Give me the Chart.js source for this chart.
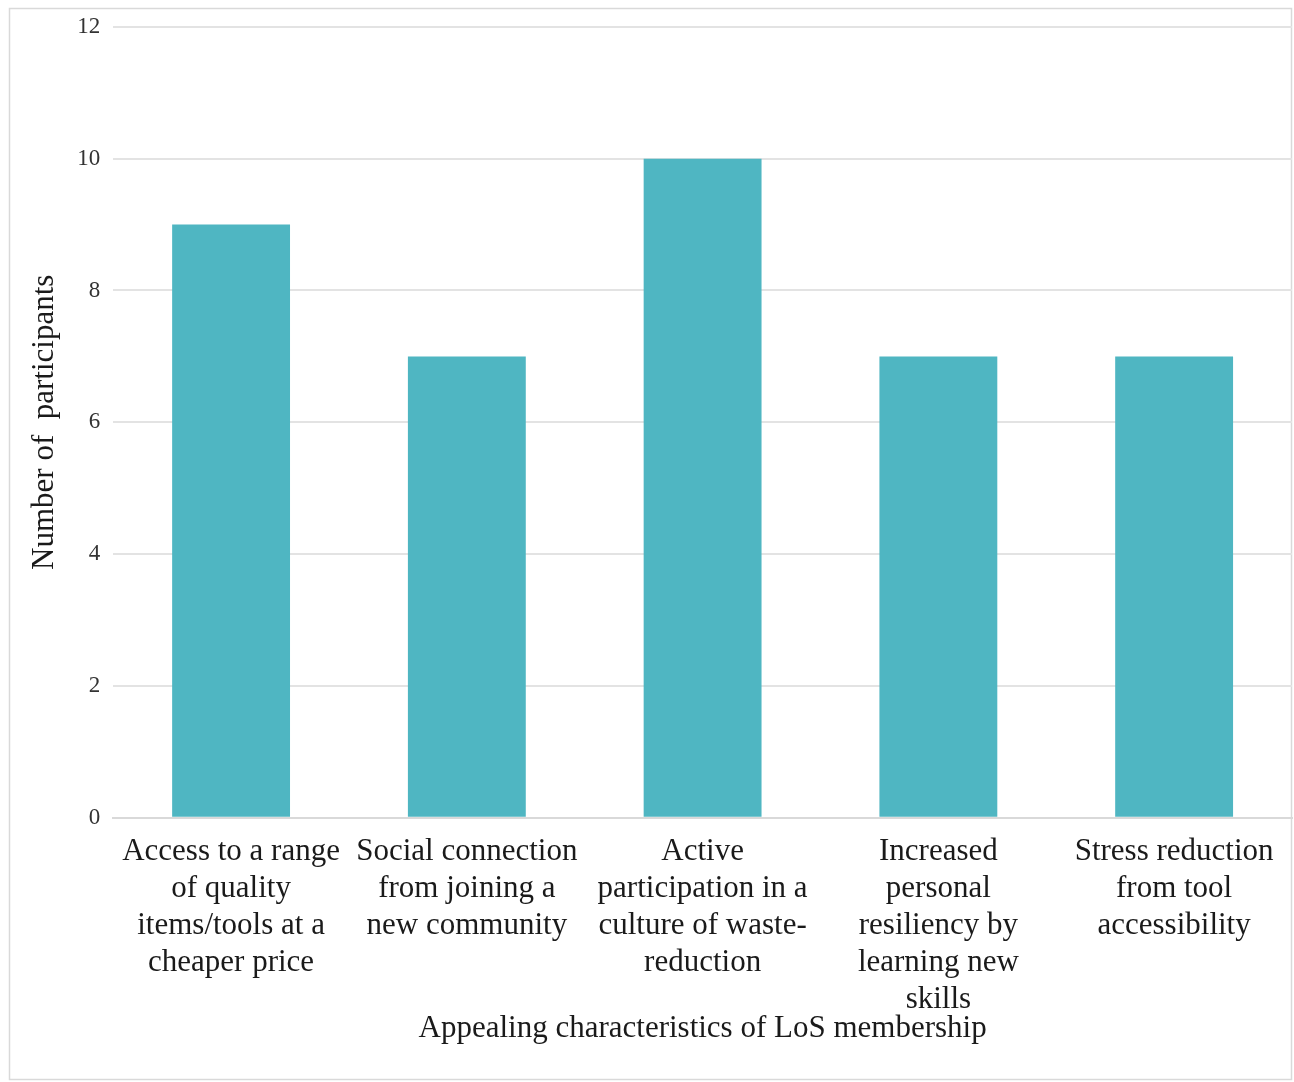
<!DOCTYPE html>
<html>
<head>
<meta charset="utf-8">
<script src="https://cdn.jsdelivr.net/npm/chart.js@4"></script>
<style>
  html, body { margin: 0; padding: 0; background: #ffffff; }
  #wrap { position: absolute; left: 0; top: 0; width: 1294px; height: 1082px; }
</style>
</head>
<body>
<div id="wrap"><canvas id="c" width="1294" height="1082"></canvas></div>
<script>
const categories = [
  ["Access to a range", "of quality", "items/tools at a", "cheaper price"],
  ["Social connection", "from joining a", "new community"],
  ["Active", "participation in a", "culture of waste-", "reduction"],
  ["Increased", "personal", "resiliency by", "learning new", "skills"],
  ["Stress reduction", "from tool", "accessibility"]
];
const participants = [9, 7, 10, 7, 7];
const yTicks = [0, 2, 4, 6, 8, 10, 12];
const yTitle = "Number of  participants";
const xTitle = "Appealing characteristics of LoS membership";

const frame = {
  id: 'frame',
  beforeDraw(chart) {
    const ctx = chart.ctx;
    ctx.save();
    ctx.fillStyle = '#ffffff';
    ctx.fillRect(0, 0, chart.width, chart.height);
    ctx.strokeStyle = '#d9d9d9';
    ctx.lineWidth = 1.5;
    ctx.strokeRect(9.5, 8.5, 1282, 1071);
    ctx.restore();
  }
};

new Chart(document.getElementById('c'), {
  type: 'bar',
  data: {
    labels: categories,
    datasets: [{
      data: participants,
      backgroundColor: '#4fb6c2',
      borderWidth: 0,
      barPercentage: 0.5,
      categoryPercentage: 1.0
    }]
  },
  options: {
    responsive: false,
    animation: false,
    devicePixelRatio: 1,
    layout: { padding: { left: 10, top: 19, right: 2, bottom: 35 } },
    plugins: { legend: { display: false }, tooltip: { enabled: false } },
    scales: {
      x: {
        grid: { display: false, drawTicks: false },
        border: { display: true, color: '#d9d9d9', width: 2 },
        ticks: {
          color: '#1a1a1a',
          maxRotation: 0, minRotation: 0, autoSkip: false,
          padding: 15,
          font: { family: '"Liberation Serif", serif', size: 31, lineHeight: 1.2 }
        },
        title: {
          display: true, text: xTitle, color: '#1a1a1a',
          padding: { top: -24, bottom: 0 },
          font: { family: '"Liberation Serif", serif', size: 31, lineHeight: 1.2 }
        }
      },
      y: {
        min: 0, max: 12,
        afterBuildTicks(scale) { scale.ticks = yTicks.map(v => ({ value: v })); },
        grid: { color: '#e3e3e3', lineWidth: 2, drawTicks: false },
        border: { display: false },
        ticks: {
          color: '#333333', padding: 13,
          font: { family: '"Liberation Serif", serif', size: 23 }
        },
        title: {
          display: true, text: yTitle, color: '#1a1a1a',
          padding: { top: 16, bottom: 1 },
          font: { family: '"Liberation Serif", serif', size: 31, lineHeight: 1.2 }
        }
      }
    }
  },
  plugins: [frame]
});
</script>
</body>
</html>
